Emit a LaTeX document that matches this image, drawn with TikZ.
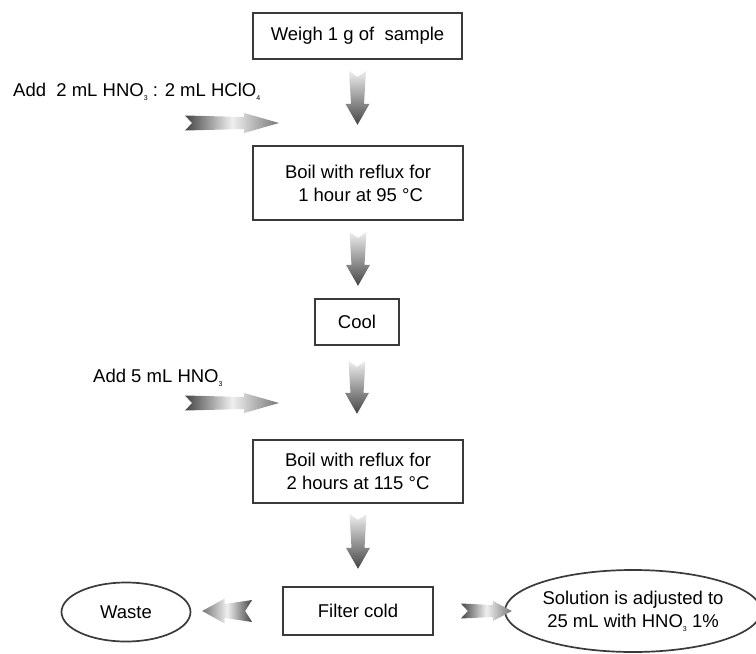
\documentclass[tikz,border=0pt]{standalone}
\usepackage{fontspec}
\setmainfont{Liberation Sans}
\usetikzlibrary{shapes.geometric}

\definecolor{boxline}{HTML}{3A3A3A}
\definecolor{arrdark}{HTML}{444444}
\definecolor{arrmid}{HTML}{767676}
\definecolor{arrlight}{HTML}{EFEFEF}

\newcommand{\lowidx}[1]{\raisebox{-0.4ex}{\fontsize{7}{7}\selectfont #1}}

\tikzset{
  stepbox/.style={draw=boxline, line width=1.7pt, align=center, inner sep=0pt},
  outbox/.style={ellipse, draw=boxline, line width=1.7pt, align=center, inner sep=0pt},
  addtext/.style={anchor=west, inner sep=0pt},
  pics/downarr/.style={code={
    \shade[top color=arrlight, bottom color=arrdark]
      (-8.5,0) -- (0,6) -- (8.5,0) -- (6.5,#1-21) -- (12,#1-21) -- (0,#1)
      -- (-12,#1-21) -- (-6.5,#1-21) -- cycle;}},
  pics/rightarr/.style={code={
    \shade[left color=arrdark, right color=arrmid, middle color=arrlight]
      (0,-7.5) -- (0.63*#1,-6) -- (0.63*#1,-10) -- (#1,0) -- (0.63*#1,10)
      -- (0.63*#1,6) -- (0,7.5) -- (7,0) -- cycle;}},
  pics/leftarr/.style={code={
    \shade[left color=arrmid, right color=arrdark, middle color=arrlight]
      (0,0) -- (0.45*#1,-12.5) -- (0.45*#1,-7) -- (#1,-11) -- (#1-7,0)
      -- (#1,11) -- (0.45*#1,7) -- (0.45*#1,12.5) -- cycle;}},
}

\begin{document}
\begin{tikzpicture}[x=1pt, y=-1pt, font=\fontsize{18.5}{23}\selectfont]
\useasboundingbox (0,0) rectangle (756,654);

% process steps
\node[stepbox, minimum width=209pt, minimum height=46pt] (weigh) at (357.5,36) {Weigh 1 g of\ \ sample};
\node[stepbox, minimum width=210pt, minimum height=74pt] (boil1) at (358,183) {Boil with reflux for\\\ 1 hour at 95 °C};
\node[stepbox, minimum width=84pt, minimum height=46pt] (cool) at (357,322) {Cool};
\node[stepbox, minimum width=210pt, minimum height=63pt] (boil2) at (358,471.5) {Boil with reflux for\\2 hours at 115 °C};
\node[stepbox, minimum width=150pt, minimum height=48pt] (filter) at (358,611) {Filter cold};

% end products
\node[outbox, minimum width=129pt, minimum height=59pt] (waste) at (126,612) {Waste};
\node[outbox, minimum width=240pt, minimum height=82pt] (solution) at (633,611) {Solution is adjusted to\\25 mL with HNO\lowidx{3} 1\%};

% reagents added
\node[addtext] (addacid) at (13,92) {Add\ \ 2 mL HNO\lowidx{3} : 2 mL HClO\lowidx{4}};
\node[addtext] (addnitric) at (93,378) {Add 5 mL HNO\lowidx{3}};
\path (185,123) pic {rightarr=94};
\path (185,403) pic {rightarr=94};

% flow arrows
\path (weigh.south) ++(0,11) pic {downarr=54};
\path (boil1.south) ++(0,11) pic {downarr=54};
\path (cool.south) ++(0,15) pic {downarr=53};
\path (boil2.south) ++(0,10) pic {downarr=55};
\path (filter.west) ++(-80,0) pic {leftarr=50};
\path (filter.east) ++(27,0) pic {rightarr=51};

\end{tikzpicture}
\end{document}
